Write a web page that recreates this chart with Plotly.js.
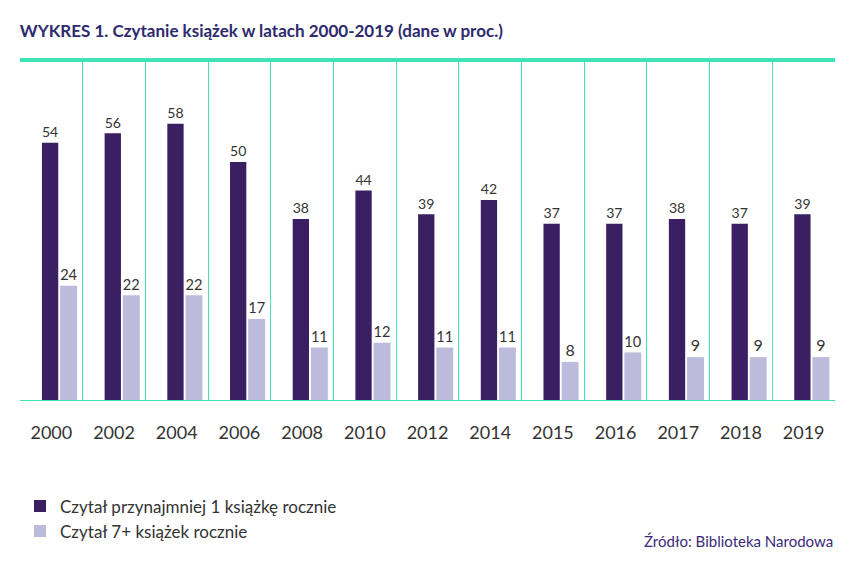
<!DOCTYPE html>
<html><head><meta charset="utf-8">
<script src="https://cdn.plot.ly/plotly-3.0.1.min.js"></script>
<style>body{margin:0;background:#fff}</style></head>
<body><div id="chart" style="width:860px;height:565px"></div>
<script>
const years = ['2000','2002','2004','2006','2008','2010','2012','2014','2015','2016','2017','2018','2019'];
const atLeastOne = [54, 56, 58, 50, 38, 44, 39, 42, 37, 37, 38, 37, 39];
const sevenPlus = [24, 22, 22, 17, 11, 12, 11, 11, 8, 10, 9, 9, 9];

const green = '#3ee3b4';
const lbl = { family: 'Lato, "Open Sans", sans-serif', size: 16, color: '#333' };

Plotly.newPlot('chart', [
  {
    x: years, y: atLeastOne, name: 'Czytał przynajmniej 1 książkę rocznie',
    type: 'bar', marker: { color: '#3a1f63' }, offset: -0.15, width: 0.26,
    text: atLeastOne, textposition: 'outside', textfont: lbl, cliponaxis: false
  },
  {
    x: years, y: sevenPlus, name: 'Czytał 7+ książek rocznie',
    type: 'bar', marker: { color: '#bdbbdc' }, offset: 0.14, width: 0.27,
    text: sevenPlus, textposition: 'outside', textfont: lbl, cliponaxis: false
  }
], {
  width: 860, height: 565,
  margin: { l: 20, r: 25, t: 60, b: 165 },
  font: { family: 'Lato, "Open Sans", sans-serif', color: '#333' },
  title: { text: '<b>WYKRES 1. Czytanie książek w latach 2000-2019 (dane w proc.)</b>',
    x: 0.023, xanchor: 'left', y: 0.955, font: { size: 17, color: '#2d2a6e' } },
  xaxis: { type: 'category', tickson: 'boundaries', showgrid: true, gridcolor: green, gridwidth: 1,
    showline: true, linecolor: green, mirror: true, ticks: '', ticklabelstandoff: 16,
    tickfont: { size: 18, color: '#333' } },
  yaxis: { range: [0, 71.4], visible: false, showgrid: false, zeroline: false },
  showlegend: true,
  legend: { orientation: 'h', x: 0.0, y: -0.26, xanchor: 'left', yanchor: 'top',
    font: { size: 17, color: '#333' }, entrywidth: 430, entrywidthmode: 'pixels', itemwidth: 30 },
  shapes: [
    { type: 'line', xref: 'paper', yref: 'paper', x0: 0, x1: 1, y0: 1, y1: 1, line: { color: green, width: 4 } }
  ],
  annotations: [
    { text: 'Źródło: Biblioteka Narodowa', xref: 'paper', yref: 'paper', x: 1, y: -0.415,
      xanchor: 'right', yanchor: 'middle', showarrow: false, font: { size: 15, color: '#3b2a7a' } }
  ]
}, { displayModeBar: false });
</script></body></html>
